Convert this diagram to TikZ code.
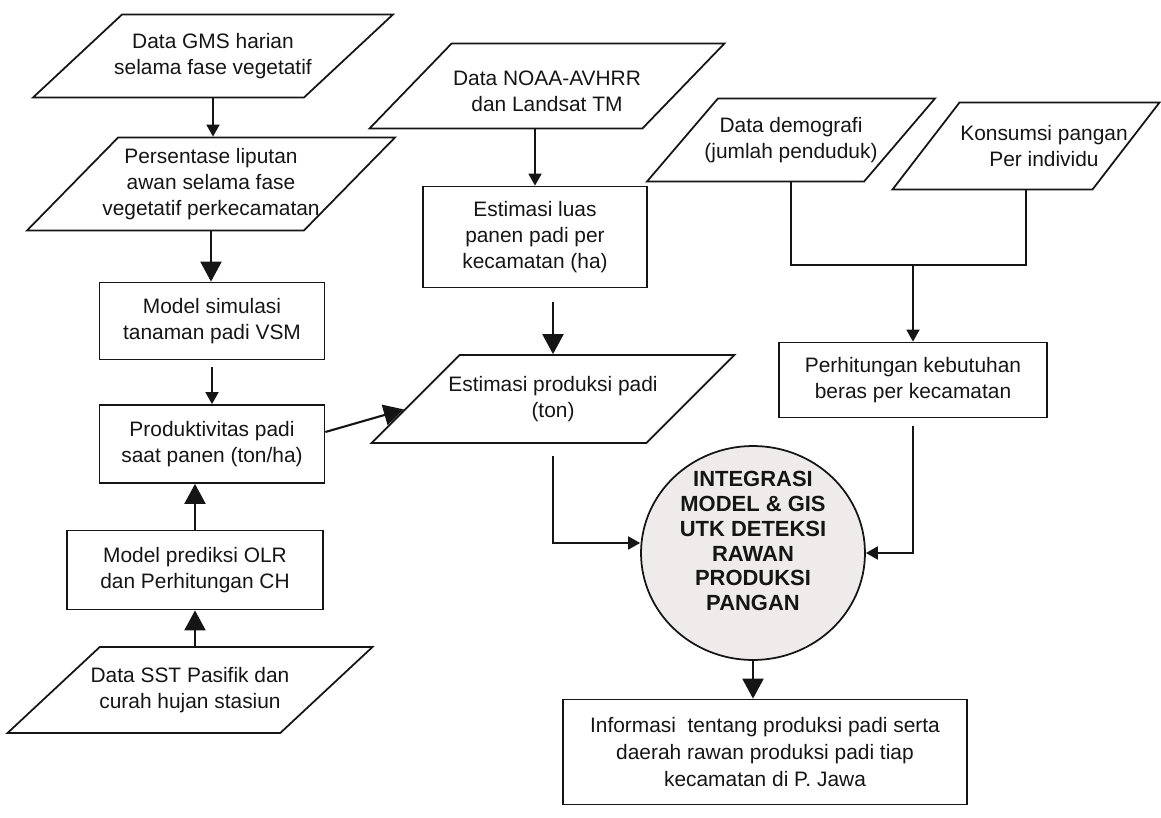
\documentclass[tikz,border=0pt]{standalone}
\usepackage{fontspec}
\setmainfont{Liberation Sans}
\usetikzlibrary{arrows.meta,positioning,calc,shapes.geometric}
\definecolor{ink}{HTML}{151515}
\definecolor{hubfill}{HTML}{EFEBEB}
\tikzset{
  txt/.style={font=\fontsize{11.9}{14.8}\selectfont, align=center, inner sep=0pt, text=ink},
  box/.style={draw=ink, rectangle, line width=1pt, align=center, inner sep=3pt,
              font=\fontsize{11.9}{14.8}\selectfont, text=ink},
  datain/.style={draw=ink, line width=1pt, trapezium, trapezium left angle=#1,
                 trapezium right angle={180-#1}, trapezium stretches body, inner sep=0pt},
  datain/.default=45,
  dsize/.style 2 args={minimum width=#1, text height=#2, text depth=#2},
  hub/.style={draw=ink, fill=hubfill, ellipse, line width=1pt, inner sep=0pt},
  hubtxt/.style={font=\fontsize{12.5}{14.2}\selectfont\bfseries, align=center, inner sep=0pt, text=ink},
  arrow/.style={-{Triangle[length=2.4mm,width=2.6mm]}, line width=1pt, draw=ink},
  bigarrow/.style={-{Triangle[length=4mm,width=4.2mm]}, line width=1.2pt, draw=ink}
}
\begin{document}
\begin{tikzpicture}[x=0.02cm,y=-0.02cm]
        \useasboundingbox (0,0) rectangle (1161,818);
        \node[datain=43,dsize={7.2cm}{0.83cm},
          label={[txt]center:{Data GMS harian\\selama fase vegetatif}}] (gms) at (213,56) {};
        \node[datain=45.6,dsize={7.36cm}{0.93cm},
          label={[txt]center:{Persentase liputan\\awan selama fase\\vegetatif perkecamatan}}] (pers) at (211,184) {};
        \node[box,minimum width=4.5cm,minimum height=1.54cm] (simul) at (212,321)
          {Model simulasi\\tanaman padi VSM};
        \node[box,minimum width=4.5cm,minimum height=1.56cm] (prod) at (212,444)
          {Produktivitas padi\\saat panen (ton/ha)};
        \node[box,minimum width=5.12cm,minimum height=1.58cm] (pred) at (195,570)
          {Model prediksi OLR\\dan Perhitungan CH};
        \node[datain=43,dsize={7.3cm}{0.86cm},
          label={[txt]center:{Data SST Pasifik dan\\curah hujan stasiun}}] (sst) at (190,690) {};
        \node[datain=46,dsize={7.1cm}{0.85cm},
          label={[txt,yshift=-0.1cm]center:{Data NOAA-AVHRR\\dan Landsat TM}}] (noaa) at (547,86) {};
        \node[box,minimum width=4.48cm,minimum height=2.02cm] (luas) at (535,237)
          {Estimasi luas\\panen padi per\\kecamatan (ha)};
        \node[datain=45,dsize={7.26cm}{0.88cm},
          label={[txt]center:{Estimasi produksi padi\\(ton)}}] (produksi) at (553,399) {};
        \node[datain=49.5,dsize={5.76cm}{0.83cm},
          label={[txt]center:{Data demografi\\(jumlah penduduk)}}] (demo) at (791,140) {};
        \node[datain=52.4,dsize={5.34cm}{0.87cm},
          label={[txt,xshift=0.36cm]center:{Konsumsi pangan\\Per individu}}] (kons) at (1026,146) {};
        \node[box,minimum width=5.36cm,minimum height=1.5cm] (perh) at (913,380)
          {Perhitungan kebutuhan\\beras per kecamatan};
        \node[hub,minimum width=4.48cm,minimum height=4.28cm,
          label={[hubtxt,yshift=0.24cm]center:{INTEGRASI\\MODEL \& GIS\\UTK DETEKSI\\RAWAN\\PRODUKSI\\PANGAN}}] (integ) at (753,553) {};
        \node[box,minimum width=8.08cm,minimum height=2.1cm,font=\fontsize{11.9}{15.3}\selectfont] (info) at (765,752)
          {Informasi\ \ tentang produksi padi serta\\daerah rawan produksi padi tiap\\kecamatan di P. Jawa};
        \coordinate (merge) at (perh.north |- 0,265);
        \draw[arrow] (gms.south) -- (gms.south |- pers.north);
        \draw[bigarrow] (pers.south) -- (pers.south |- simul.north);
        \draw[arrow,shorten <=0.14cm] (simul.south) -- (prod.north);
        \draw[bigarrow] (pred.north) -- (pred.north |- prod.south);
        \draw[bigarrow] (sst.north -| pred.south) -- (pred.south);
        \draw[bigarrow] ([yshift=0.24cm]prod.east) -- (produksi.184);
        \draw[arrow] (luas.north |- noaa.south) -- (luas.north);
        \draw[bigarrow,shorten <=0.28cm] (produksi.north |- luas.south) -- (produksi.north);
        \draw[line width=1pt,draw=ink] (demo.south) |- (merge) -| (kons.south);
        \draw[arrow] (merge) -- (perh.north);
        \draw[arrow,shorten <=0.24cm] (produksi.south) |- ([yshift=0.2cm]integ.west);
        \draw[arrow,shorten <=0.16cm] (perh.south) |- (integ.east);
        \draw[bigarrow] (integ.south) -- (integ.south |- info.north);
      \end{tikzpicture}
\end{document}
